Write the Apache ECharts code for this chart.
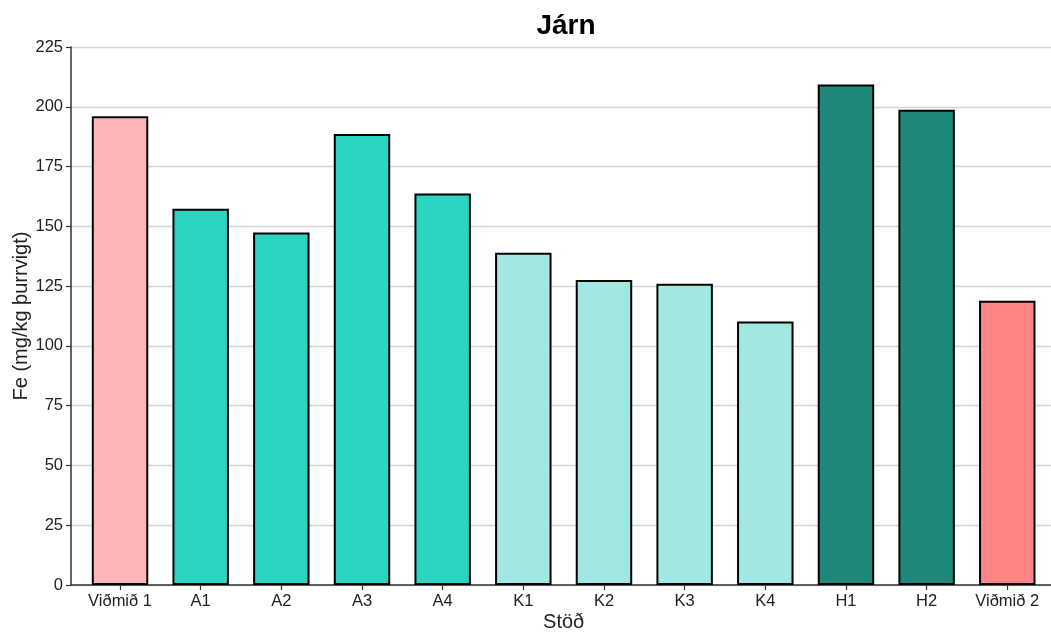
<!DOCTYPE html>
<html><head><meta charset="utf-8">
<script src="https://cdn.jsdelivr.net/npm/echarts@6/dist/echarts.min.js"></script>
<style>html,body{margin:0;padding:0;background:#fff}#c{width:1051px;height:633px}</style>
</head><body><div id="c"></div>
<script>
const categories = ['Viðmið 1','A1','A2','A3','A4','K1','K2','K3','K4','H1','H2','Viðmið 2'];
const values = [196, 157.4, 147.4, 188.6, 163.7, 139, 127.6, 126, 110.2, 209.3, 198.8, 118.9];
const groups = ['ref1','A','A','A','A','K','K','K','K','H','H','ref2'];
const groupColors = {ref1:'#FFB6B9', A:'#2DD4C2', K:'#A0E8E1', H:'#1F8878', ref2:'#FF8585'};
const yTicks = [0,25,50,75,100,125,150,175,200,225];

const chart = echarts.init(document.getElementById('c'));
const font = 'Liberation Sans, Arial, sans-serif';
const yMin = yTicks[0], yMax = yTicks[yTicks.length-1];
chart.setOption({
  animation:false,
  title:{text:'Járn', left:561, textAlign:'center', top:7, textStyle:{fontFamily:font, fontSize:28, fontWeight:'bold', color:'#000'}},
  grid:[
    {left:71, right:0, top:47, bottom:48, containLabel:false, outerBoundsMode:'none'},
    {left:79.7, right:3.4, top:47, bottom:48, containLabel:false, outerBoundsMode:'none'}
  ],
  xAxis:[
    {gridIndex:0, type:'value', min:0, max:1, show:true,
      axisLine:{show:true, lineStyle:{color:'#333', width:1.5}}, axisTick:{show:false}, axisLabel:{show:false}, splitLine:{show:false}},
    {gridIndex:1, type:'category', data:categories, name:'Stöð', nameLocation:'middle', nameGap:27, nameMoveOverlap:false,
      nameTextStyle:{fontFamily:font, fontSize:20, color:'#222'},
      axisLine:{show:false}, axisTick:{show:true, alignWithLabel:true, interval:0, lineStyle:{color:'#333', width:1.2}, length:5},
      axisLabel:{fontFamily:font, fontSize:16.5, color:'#222', margin:8, interval:0, hideOverlap:false}}
  ],
  yAxis:[
    {gridIndex:0, type:'value', min:yMin, max:yMax, interval:25, name:'Fe (mg/kg þurrvigt)', nameLocation:'middle', nameGap:40, nameMoveOverlap:false,
      nameTextStyle:{fontFamily:font, fontSize:20, color:'#222'},
      axisLine:{show:true, lineStyle:{color:'#333', width:1.5}}, axisTick:{show:true, length:5, lineStyle:{color:'#333', width:1.2}},
      axisLabel:{fontFamily:font, fontSize:16.5, color:'#222', margin:8},
      splitLine:{lineStyle:{color:'#d4d4d4', width:1.3}}},
    {gridIndex:1, type:'value', min:yMin, max:yMax, interval:25, show:false, splitLine:{show:false}}
  ],
  series:[{type:'bar', xAxisIndex:1, yAxisIndex:1, barWidth:'70%',
    data: values.map((v,i)=>({value:v, itemStyle:{color:groupColors[groups[i]]}})),
    itemStyle:{borderColor:'#000', borderWidth:2}}]
});
</script></body></html>
